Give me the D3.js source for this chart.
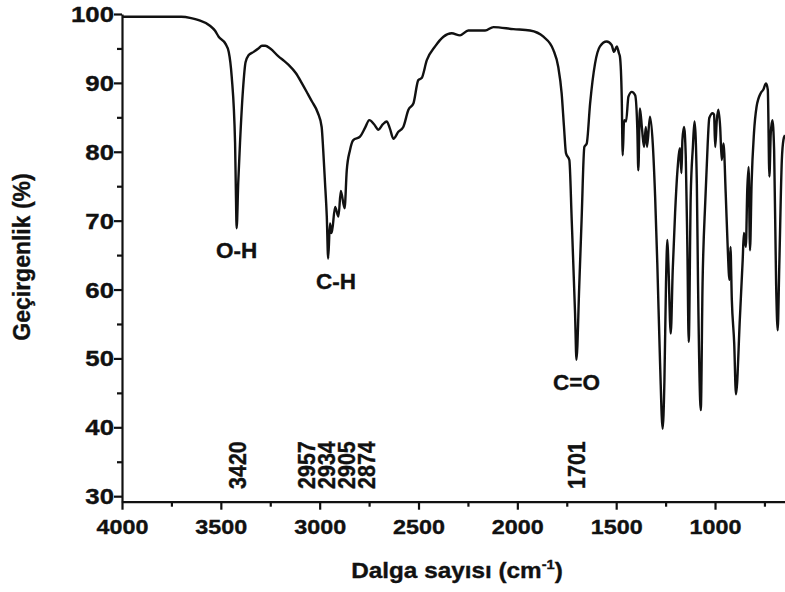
<!DOCTYPE html>
<html>
<head>
<meta charset="utf-8">
<script src="https://cdn.jsdelivr.net/npm/d3@7"></script>
<style>
  html, body { margin: 0; padding: 0; background: #fff; }
  svg { display: block; }
  text { font-family: "Liberation Sans", Arial, sans-serif; font-weight: bold; fill: #111; stroke: #111; stroke-width: 0.35px; }
</style>
</head>
<body>
<svg id="chart" width="785" height="592"></svg>
<script>
// ---- data ----
const wavenumbers = [4000, 3900, 3800, 3700, 3650, 3612, 3555, 3530, 3511, 3477, 3460, 3445, 3428, 3424, 3420, 3412, 3403, 3388, 3375, 3360, 3334, 3310, 3292, 3275, 3250, 3207, 3180, 3157, 3120, 3089, 3060, 3039, 3010, 2990, 2982, 2973, 2964, 2957, 2948, 2939, 2922, 2905, 2893, 2874, 2863, 2847, 2830, 2796, 2770, 2749, 2725, 2703, 2680, 2661, 2645, 2627, 2602, 2577, 2551, 2526, 2501, 2484, 2458, 2416, 2374, 2332, 2290, 2248, 2163, 2121, 2020, 1936, 1868, 1818, 1793, 1776, 1764, 1754, 1737, 1725, 1708, 1701, 1687, 1675, 1661, 1649, 1632, 1607, 1582, 1548, 1523, 1511, 1497, 1486, 1481, 1472, 1467, 1460, 1450, 1438, 1421, 1404, 1393, 1388, 1380, 1369, 1359, 1350, 1344, 1329, 1315, 1303, 1292, 1278, 1265, 1256, 1248, 1241, 1236, 1224, 1214, 1202, 1190, 1177, 1170, 1165, 1157, 1148, 1140, 1133, 1123, 1112, 1104, 1092, 1086, 1072, 1063, 1049, 1037, 1029, 1012, 1005, 999, 991, 983, 974, 966, 957, 946, 936, 927, 922, 915, 903, 894, 874, 860, 854, 844, 837, 830, 823, 815, 803, 790, 769, 756, 742, 733, 725, 718, 710, 701, 691, 683, 675, 662, 654, 646];
const transmittance = [99.6, 99.6, 99.6, 99.6, 99.4, 99.1, 98.3, 97.6, 96.7, 95.7, 94.5, 90.9, 81.3, 74.4, 68.9, 75.5, 81.3, 89.0, 93.0, 94.0, 94.5, 95.0, 95.4, 95.4, 95.0, 93.8, 93.2, 92.6, 91.4, 89.9, 88.4, 87.3, 85.7, 83.6, 80.2, 75.5, 70.6, 64.5, 69.6, 68.2, 72.0, 70.6, 74.3, 71.8, 77.3, 80.2, 81.7, 82.2, 83.5, 84.6, 84.0, 83.2, 84.0, 84.4, 83.4, 81.9, 82.9, 83.6, 86.1, 87.0, 90.4, 90.7, 93.3, 95.3, 96.7, 97.2, 96.9, 97.6, 97.6, 98.1, 97.8, 97.6, 96.7, 94.8, 92.3, 88.5, 83.6, 79.8, 78.8, 70.1, 56.5, 49.8, 60.4, 70.1, 80.7, 81.2, 87.0, 92.8, 95.3, 96.0, 95.5, 94.5, 95.3, 94.3, 93.8, 88.0, 79.5, 84.6, 84.4, 88.0, 88.7, 88.2, 83.2, 77.3, 86.3, 83.2, 80.7, 83.6, 80.7, 85.1, 81.2, 73.5, 63.8, 49.3, 39.8, 46.8, 60.9, 67.2, 63.8, 53.6, 62.8, 71.1, 77.3, 80.5, 76.9, 81.7, 83.6, 79.3, 66.2, 52.4, 73.5, 80.7, 84.4, 75.4, 60.9, 42.5, 60.9, 73.0, 81.2, 84.9, 85.6, 85.4, 80.7, 84.6, 86.1, 83.6, 78.8, 81.2, 74.0, 66.2, 61.4, 66.2, 58.5, 52.2, 44.8, 56.0, 64.3, 68.2, 66.2, 74.4, 77.8, 65.7, 75.4, 82.7, 86.5, 88.5, 89.0, 89.9, 89.0, 76.4, 82.7, 84.6, 80.2, 60.9, 54.1, 63.3, 78.8, 81.7, 82.4];

const xTicks = [4000, 3500, 3000, 2500, 2000, 1500, 1000];
const xMinorTicks = [3750, 3250, 2750, 2250, 1750, 1250, 750];
const yTicks = [30, 40, 50, 60, 70, 80, 90, 100];
const yMinorTicks = [35, 45, 55, 65, 75, 85, 95];

const peakLabels = [3420, 2957, 2934, 2905, 2874, 1701];
const bandNames = ["O-H", "C-H", "C=O"];
const bandPeaks = [[3420], [2957, 2934, 2905, 2874], [1701]];

const xTitle = "Dalga sayısı (cm";
const xTitleSup = "-1";
const yTitle = "Geçirgenlik (%)";

// ---- layout ----
const svg = d3.select("#chart");
const plotLeft = 122, plotRight = 785, plotTop = 14, plotBottom = 501.7;

const x = d3.scaleLinear().domain([4000, 646]).range([plotLeft, plotRight]);
const y = d3.scaleLinear().domain([29.2, 100]).range([plotBottom, plotTop]);

// axes
const yAxisMajor = svg.append("g").attr("transform", `translate(${plotLeft},0)`)
  .call(d3.axisLeft(y).tickValues(yTicks).tickSize(8).tickSizeOuter(0).tickFormat(d3.format("d")));
svg.append("g").attr("transform", `translate(${plotLeft},0)`)
  .call(d3.axisLeft(y).tickValues(yMinorTicks).tickSize(5).tickSizeOuter(0).tickFormat(""))
  .select(".domain").remove();

const xAxisMajor = svg.append("g").attr("transform", `translate(0,${plotBottom})`)
  .call(d3.axisBottom(x).tickValues(xTicks).tickSize(8).tickSizeOuter(0).tickFormat(d3.format("d")));
svg.append("g").attr("transform", `translate(0,${plotBottom})`)
  .call(d3.axisBottom(x).tickValues(xMinorTicks).tickSize(5).tickSizeOuter(0).tickFormat(""))
  .select(".domain").remove();

svg.selectAll(".domain, .tick line").attr("stroke", "#111").attr("stroke-width", 2.2);

yAxisMajor.selectAll(".tick text")
  .attr("x", 0).attr("dy", "0.35em")
  .attr("transform", "translate(-8,0) scale(1.2,1)")
  .style("font-size", "21.5px").style("font-family", '"Liberation Sans", Arial, sans-serif')
  .style("font-weight", "bold").attr("fill", "#111");

xAxisMajor.selectAll(".tick text")
  .attr("y", 0).attr("dy", 0)
  .attr("transform", "translate(0,32.5) scale(1.14,1)")
  .style("font-size", "20.5px").style("font-family", '"Liberation Sans", Arial, sans-serif')
  .style("font-weight", "bold").attr("fill", "#111");

// spectrum
const pts = wavenumbers.map((w, i) => [w, transmittance[i]]);
svg.append("clipPath").attr("id", "clip").append("rect")
  .attr("x", plotLeft).attr("y", 0).attr("width", plotRight - plotLeft).attr("height", plotBottom);
svg.append("path")
  .datum(pts)
  .attr("clip-path", "url(#clip)")
  .attr("fill", "none")
  .attr("stroke", "#111")
  .attr("stroke-width", 2.4)
  .attr("stroke-linejoin", "round")
  .attr("d", d3.line().x(d => x(d[0])).y(d => y(d[1])).curve(d3.curveMonotoneX));

// peak wavenumber labels (rotated, spread to avoid overlap)
function spread(xs, gap) {
  let groups = xs.map(v => ({ vals: [v] }));
  let changed = true;
  const pos = g => {
    const m = d3.mean(g.vals);
    return g.vals.map((_, i) => m + (i - (g.vals.length - 1) / 2) * gap);
  };
  while (changed) {
    changed = false;
    for (let i = 0; i < groups.length - 1; i++) {
      const a = pos(groups[i]), b = pos(groups[i + 1]);
      if (b[0] - a[a.length - 1] < gap) {
        groups[i] = { vals: groups[i].vals.concat(groups[i + 1].vals) };
        groups.splice(i + 1, 1);
        changed = true;
        break;
      }
    }
  }
  return groups.flatMap(pos);
}
const labelX = spread(peakLabels.map(d => x(d)), 19.7);
peakLabels.forEach((w, i) => {
  svg.append("text")
    .attr("transform", `translate(${labelX[i] + 9},489) scale(1.08,1) rotate(-90)`)
    .attr("text-anchor", "start")
    .style("font-size", "21.5px")
    .text(w);
});

// band annotations below each band's minimum
bandNames.forEach((name, i) => {
  const ws = bandPeaks[i];
  const near = pts.filter(p => ws.some(w => Math.abs(p[0] - w) <= 12));
  const minT = d3.min(near, p => p[1]);
  const cx = d3.mean(ws, w => x(w));
  svg.append("text")
    .attr("x", cx).attr("y", y(minT) + 30)
    .attr("text-anchor", "middle")
    .style("font-size", "22.5px")
    .text(name);
});

// axis titles
const xt = svg.append("text")
  .attr("transform", "translate(457,578) scale(1.13,1)")
  .attr("text-anchor", "middle")
  .style("font-size", "21.5px");
xt.append("tspan").text(xTitle);
xt.append("tspan").attr("dy", -9).style("font-size", "13px").text(xTitleSup);
xt.append("tspan").attr("dy", 9).text(")");

svg.append("text")
  .attr("transform", "translate(30,257) scale(1.05,1) rotate(-90)")
  .attr("text-anchor", "middle")
  .style("font-size", "23px")
  .text(yTitle);
</script>
</body>
</html>
